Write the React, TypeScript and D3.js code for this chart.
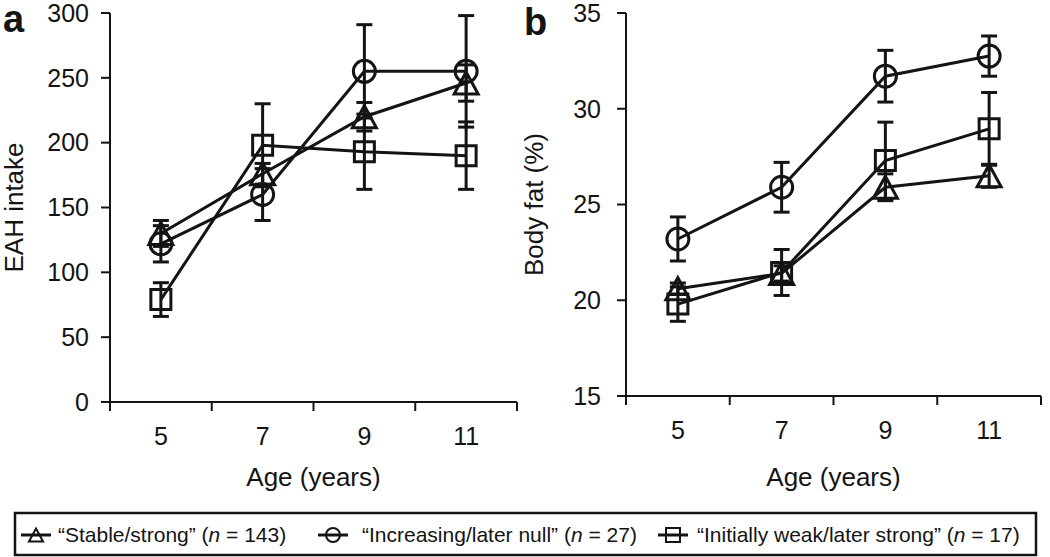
import React from 'react';
import * as d3 from 'd3';

const ages = ['5', '7', '9', '11'];

// Panel a: EAH intake
const eahStable = [130, 176, 220, 246];
const eahStableErr = [10, 8, 11, 14];
const eahIncreasing = [122, 160, 255, 255];
const eahIncreasingErr = [14, 20, 36, 43];
const eahInitWeak = [79, 198, 193, 190];
const eahInitWeakErr = [13, 32, 29, 26];
const eahTicks = [0, 50, 100, 150, 200, 250, 300];

// Panel b: Body fat (%)
const fatStable = [20.6, 21.4, 25.9, 26.5];
const fatStableErr = [0.3, 0.4, 0.7, 0.6];
const fatIncreasing = [23.2, 25.9, 31.7, 32.75];
const fatIncreasingErr = [1.15, 1.3, 1.35, 1.05];
const fatInitWeak = [19.8, 21.45, 27.3, 28.95];
const fatInitWeakErr = [0.9, 1.2, 2.0, 1.9];
const fatTicks = [15, 20, 25, 30, 35];

const legendLabels = ['Stable/strong', 'Increasing/later null', 'Initially weak/later strong'];
const legendN = ['143', '27', '17'];
const markerKinds = ['triangle', 'circle', 'square'];

const INK = '#141414';
const FONT = '"Liberation Sans", Arial, Helvetica, sans-serif';

function markerPath(kind: string, s: number): string {
  if (kind === 'circle') {
    const r = s / 2;
    return `M${-r},0A${r},${r} 0 1,0 ${r},0A${r},${r} 0 1,0 ${-r},0Z`;
  }
  if (kind === 'square') {
    const h = s / 2;
    return `M${-h},${-h}H${h}V${h}H${-h}Z`;
  }
  const h = s * 0.92;
  return `M0,${-h / 2}L${s / 2},${h / 2}L${-s / 2},${h / 2}Z`;
}

type PanelProps = {
  letter: string;
  x0: number;
  x1: number;
  yTop: number;
  yBottom: number;
  domain: [number, number];
  ticks: number[];
  title: string;
  titleX: number;
  letterX: number;
  letterY: number;
  labelRight: number;
  series: { values: number[]; errs: number[]; kind: string }[];
};

function Panel(p: PanelProps) {
  const x = d3.scaleBand<string>().domain(ages).range([p.x0, p.x1]).padding(0);
  const y = d3.scaleLinear().domain(p.domain).range([p.yBottom, p.yTop]);
  const cx = (a: string) => (x(a) as number) + x.bandwidth() / 2;
  const line = d3
    .line<number>()
    .x((_, i) => cx(ages[i]))
    .y((v) => y(v));
  const boundaries = [...ages.map((a) => x(a) as number), p.x1];
  const capW = 8;
  return (
    <g>
      <text x={p.letterX} y={p.letterY} fontFamily={FONT} fontWeight="bold" fontSize={38} fill={INK}>
        {p.letter}
      </text>
      {/* axes */}
      <line x1={p.x0} x2={p.x0} y1={p.yTop} y2={p.yBottom} stroke={INK} strokeWidth={2} />
      <line x1={p.x0} x2={p.x1} y1={p.yBottom} y2={p.yBottom} stroke={INK} strokeWidth={2} />
      {p.ticks.map((t) => (
        <g key={t}>
          <line x1={p.x0 - 9} x2={p.x0} y1={y(t)} y2={y(t)} stroke={INK} strokeWidth={2} />
          <text
            x={p.labelRight}
            y={y(t)}
            dy="0.35em"
            textAnchor="end"
            fontFamily={FONT}
            fontSize={25}
            fill={INK}
          >
            {t}
          </text>
        </g>
      ))}
      {boundaries.map((b, i) => (
        <line key={i} x1={b} x2={b} y1={p.yBottom} y2={p.yBottom + 9} stroke={INK} strokeWidth={2} />
      ))}
      {ages.map((a) => (
        <text
          key={a}
          x={cx(a)}
          y={p.yBottom + 43}
          textAnchor="middle"
          fontFamily={FONT}
          fontSize={25}
          fill={INK}
        >
          {a}
        </text>
      ))}
      <text
        x={(p.x0 + p.x1) / 2}
        y={486}
        textAnchor="middle"
        fontFamily={FONT}
        fontSize={26}
        fill={INK}
      >
        Age (years)
      </text>
      <text
        transform={`translate(${p.titleX},${(p.yTop + p.yBottom) / 2}) rotate(-90)`}
        textAnchor="middle"
        fontFamily={FONT}
        fontSize={26}
        fill={INK}
      >
        {p.title}
      </text>
      {/* series lines */}
      {p.series.map((s, i) => (
        <path key={'l' + i} d={line(s.values) as string} fill="none" stroke={INK} strokeWidth={3} />
      ))}
      {/* error bars */}
      {p.series.map((s, i) =>
        s.values.map((v, j) => {
          const xc = cx(ages[j]);
          const hi = y(v + s.errs[j]);
          const lo = y(v - s.errs[j]);
          return (
            <g key={'e' + i + '-' + j} stroke={INK} strokeWidth={3}>
              <line x1={xc} x2={xc} y1={hi} y2={lo} />
              <line x1={xc - capW} x2={xc + capW} y1={hi} y2={hi} />
              <line x1={xc - capW} x2={xc + capW} y1={lo} y2={lo} />
            </g>
          );
        })
      )}
      {/* markers */}
      {p.series.map((s, i) =>
        s.values.map((v, j) => (
          <path
            key={'m' + i + '-' + j}
            transform={`translate(${cx(ages[j])},${y(v)})`}
            d={markerPath(s.kind, s.kind === 'circle' ? 22 : s.kind === 'square' ? 20 : 24)}
            fill="none"
            stroke={INK}
            strokeWidth={3}
          />
        ))
      )}
    </g>
  );
}

export default function App() {
  const legendMarkerX = [36, 333, 673];
  const legendTextX = [58, 362, 697];
  const legendY = 542;
  return (
    <svg
      width={1050}
      height={557}
      viewBox="0 0 1050 557"
      style={{ position: 'absolute', left: 0, top: 0, background: '#fff' }}
    >
      <rect x={0} y={0} width={1050} height={557} fill="#fff" />
      <Panel
        letter="a"
        letterX={3}
        letterY={32}
        x0={110}
        x1={517}
        yTop={13}
        yBottom={402}
        domain={[0, 300]}
        ticks={eahTicks}
        title="EAH intake"
        titleX={23}
        labelRight={89}
        series={[
          { values: eahStable, errs: eahStableErr, kind: 'triangle' },
          { values: eahIncreasing, errs: eahIncreasingErr, kind: 'circle' },
          { values: eahInitWeak, errs: eahInitWeakErr, kind: 'square' },
        ]}
      />
      <Panel
        letter="b"
        letterX={524}
        letterY={35}
        x0={626}
        x1={1041}
        yTop={13}
        yBottom={396}
        domain={[15, 35]}
        ticks={fatTicks}
        title="Body fat (%)"
        titleX={543}
        labelRight={601}
        series={[
          { values: fatStable, errs: fatStableErr, kind: 'triangle' },
          { values: fatIncreasing, errs: fatIncreasingErr, kind: 'circle' },
          { values: fatInitWeak, errs: fatInitWeakErr, kind: 'square' },
        ]}
      />
      {/* legend */}
      <rect x={15} y={513} width={1021} height={42} fill="none" stroke={INK} strokeWidth={2.5} />
      {legendLabels.map((lab, i) => (
        <g key={lab}>
          <line
            x1={legendMarkerX[i] - 15}
            x2={legendMarkerX[i] + 15}
            y1={535}
            y2={535}
            stroke={INK}
            strokeWidth={3}
          />
          <path
            transform={`translate(${legendMarkerX[i]},${535})`}
            d={markerPath(markerKinds[i], 14)}
            fill="none"
            stroke={INK}
            strokeWidth={2}
          />
          <text x={legendTextX[i]} y={legendY} fontFamily={FONT} fontSize={21} fill={INK}>
            {'\u201C' + lab + '\u201D ('}
            <tspan fontStyle="italic">n</tspan>
            {' = ' + legendN[i] + ')'}
          </text>
        </g>
      ))}
    </svg>
  );
}
